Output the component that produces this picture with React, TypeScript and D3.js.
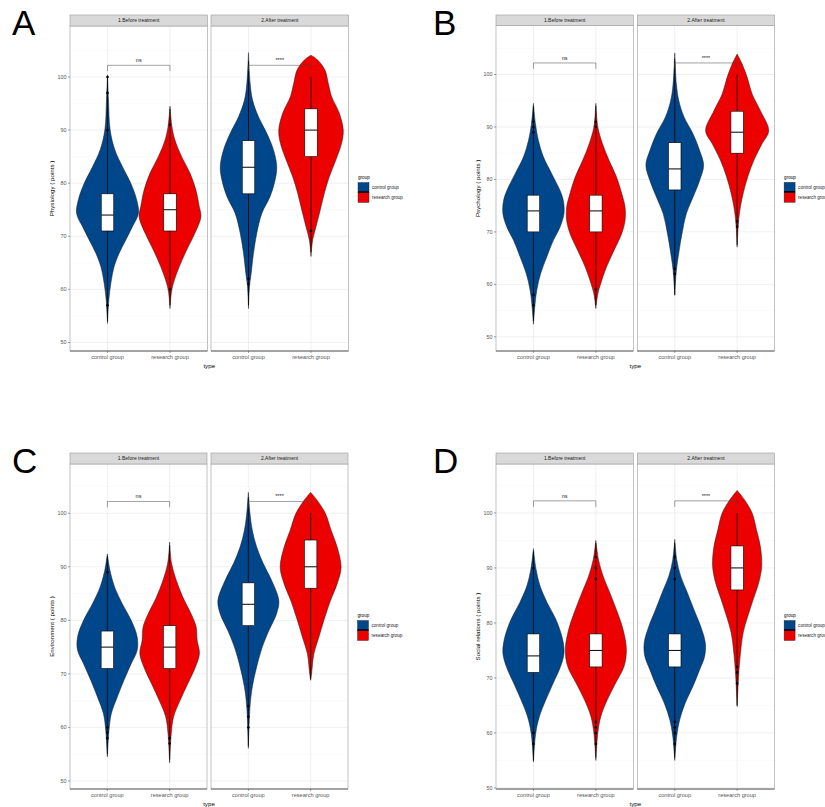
import React, { useEffect, useRef } from "react";
import * as d3 from "d3";

const groups = ["control group", "research group"];
const facets = ["1.Before treatment", "2.After treatment"];
const panelLetters = ["A", "B", "C", "D"];
const yTitles = [
  "Physiology ( points )",
  "Psychology ( points )",
  "Environment ( points )",
  "Social relations ( points )",
];
const yTicks = [50, 60, 70, 80, 90, 100];
const minorTicks = [55, 65, 75, 85, 95, 105];
const fills = ["#00468B", "#ED0000"];
const sigLabels = ["ns", "****"];
const bracketY = 102.2;

// violin profiles: [score, relative density]
const physBeforeControl = [[100.4, 0], [95.7, 3], [90.0, 8], [86.3, 22], [83.1, 45], [80.0, 70], [76.8, 88], [74.3, 93], [71.8, 75], [69.3, 55], [66.8, 35], [64.3, 20], [61.1, 10], [58.0, 4], [53.6, 0]];
const physBeforeResearch = [[94.5, 0], [90.6, 6], [88.1, 15], [85.0, 35], [81.9, 60], [78.7, 78], [75.6, 88], [73.7, 93], [70.6, 75], [67.4, 50], [64.3, 28], [61.1, 10], [59.3, 4], [56.4, 0]];
const physAfterControl = [[104.6, 0], [98.8, 5], [95.7, 12], [92.5, 30], [89.4, 55], [86.3, 75], [83.1, 85], [80.6, 80], [77.5, 65], [74.3, 40], [70.6, 25], [66.8, 15], [63.0, 8], [60.5, 3], [56.4, 0]];
const physAfterResearch = [[104.1, 0], [103.2, 20], [101.3, 42], [98.8, 52], [96.3, 62], [93.2, 85], [90.0, 97], [87.5, 92], [84.4, 75], [81.2, 55], [78.1, 40], [75.0, 28], [71.8, 15], [69.3, 5], [66.2, 0]];

const psyBeforeControl = [[94.5, 0], [90.6, 6], [87.4, 15], [84.3, 30], [81.1, 55], [77.9, 80], [76.0, 90], [73.5, 92], [70.9, 80], [68.4, 60], [65.2, 40], [62.1, 22], [58.9, 10], [55.7, 4], [52.4, 0]];
const psyBeforeResearch = [[94.5, 0], [90.0, 6], [86.8, 20], [83.6, 40], [80.5, 62], [77.3, 78], [74.7, 88], [72.2, 88], [69.7, 78], [66.5, 55], [63.3, 32], [60.2, 15], [58.2, 6], [55.4, 0]];
const psyAfterControl = [[104.1, 0], [98.2, 5], [95.1, 12], [91.9, 28], [88.7, 55], [85.5, 75], [82.7, 87], [79.8, 75], [76.6, 55], [73.5, 35], [69.7, 22], [65.9, 12], [62.7, 5], [57.9, 0]];
const psyAfterResearch = [[103.9, 0], [102.0, 15], [99.5, 30], [96.3, 45], [93.1, 70], [89.3, 95], [86.8, 75], [83.6, 50], [80.5, 32], [77.3, 18], [74.1, 8], [71.0, 3], [67.1, 0]];

const envBeforeControl = [[92.4, 0], [89.3, 8], [86.2, 22], [83.1, 45], [80.0, 72], [76.9, 90], [74.4, 90], [71.9, 72], [68.8, 50], [65.7, 30], [62.6, 12], [59.5, 5], [54.5, 0]];
const envBeforeResearch = [[94.6, 0], [90.6, 6], [87.5, 20], [84.3, 40], [81.2, 65], [78.8, 80], [76.3, 83], [73.8, 90], [71.3, 78], [68.2, 55], [65.1, 32], [62.0, 12], [58.9, 5], [53.4, 0]];
const envAfterControl = [[103.9, 0], [99.9, 5], [96.8, 12], [93.7, 25], [90.6, 45], [87.5, 70], [83.7, 92], [81.2, 85], [78.1, 62], [75.0, 42], [71.3, 25], [67.6, 12], [63.9, 5], [56.1, 0]];
const envAfterResearch = [[103.9, 0], [102.4, 20], [99.9, 45], [96.8, 62], [93.7, 80], [89.9, 92], [86.8, 80], [83.7, 60], [80.0, 40], [76.9, 25], [73.8, 10], [70.1, 3], [68.8, 0]];

const socBeforeControl = [[93.5, 0], [89.7, 8], [86.7, 20], [83.6, 42], [80.6, 68], [77.0, 88], [74.5, 92], [72.1, 82], [69.1, 60], [66.1, 38], [63.0, 18], [60.0, 7], [54.7, 0]];
const socBeforeResearch = [[95.0, 0], [91.5, 8], [88.5, 22], [85.5, 42], [82.4, 62], [78.8, 82], [75.2, 92], [72.1, 85], [69.1, 60], [66.1, 35], [63.0, 15], [60.0, 6], [55.0, 0]];
const socAfterControl = [[95.2, 0], [91.5, 6], [88.5, 18], [85.5, 38], [82.4, 58], [79.4, 78], [76.4, 92], [73.9, 90], [71.5, 75], [68.5, 55], [65.5, 32], [62.4, 15], [59.4, 6], [55.0, 0]];
const socAfterResearch = [[104.1, 0], [102.4, 22], [100.0, 45], [97.0, 58], [93.9, 70], [90.3, 74], [87.3, 65], [84.2, 48], [81.2, 32], [78.2, 18], [74.5, 10], [70.9, 5], [64.8, 0]];

// box stats: [whisker low, q1, median, q3, whisker high]
const physBoxes = [[54, 71, 74, 78, 100], [57, 71, 75, 78, 94], [57, 78, 83, 88, 103], [67, 85, 90, 94, 100]];
const psyBoxes = [[53, 70, 74, 77, 94], [56, 70, 74, 77, 94], [58, 78, 82, 87, 103], [67.5, 85, 89, 93, 100]];
const envBoxes = [[55, 71, 75, 78, 92], [54, 71, 75, 79, 94], [56.5, 79, 83, 87, 103], [69, 86, 90, 95, 100]];
const socBoxes = [[55, 71, 74, 78, 93], [55.5, 72, 75, 78, 94.5], [55.5, 72, 75, 78, 94.5], [65, 86, 90, 94, 100]];

// outlier points
const physOutliers = [[100, 97, 90, 57], [91, 60], [62, 61], [71]];
const psyOutliers = [[91, 90, 89, 58, 56], [91, 90, 59], [63, 62], [72, 71]];
const envOutliers = [[89, 60, 59, 58], [58, 57], [64, 62, 60], []];
const socOutliers = [[90, 60, 58], [92, 90, 88, 62, 61, 60, 58], [92, 90, 88, 62, 61, 60, 58], [72, 71, 69]];

const violins = [
  [physBeforeControl, physBeforeResearch, physAfterControl, physAfterResearch],
  [psyBeforeControl, psyBeforeResearch, psyAfterControl, psyAfterResearch],
  [envBeforeControl, envBeforeResearch, envAfterControl, envAfterResearch],
  [socBeforeControl, socBeforeResearch, socAfterControl, socAfterResearch],
];
const boxes = [physBoxes, psyBoxes, envBoxes, socBoxes];
const outliers = [physOutliers, psyOutliers, envOutliers, socOutliers];

// panel placement on the page
const layout = [
  { x0: 70, fw: 137.5, gap: 3.5, top: 15, stripH: 11, bottom: 351, domain: [48.4, 109.6], lx: 12, ly: 35 },
  { x0: 496, fw: 137.3, gap: 4, top: 15, stripH: 10.7, bottom: 351, domain: [47.3, 109.3], lx: 433, ly: 35 },
  { x0: 70, fw: 137, gap: 4, top: 453, stripH: 11, bottom: 789, domain: [48.5, 109.2], lx: 12, ly: 473 },
  { x0: 496, fw: 137.3, gap: 4, top: 453, stripH: 11, bottom: 789, domain: [49.8, 108.9], lx: 433, ly: 473 },
];

const FONT = "'Liberation Sans', Arial, sans-serif";

const App = () => {
  const ref = useRef<SVGSVGElement>(null);

  useEffect(() => {
    const svg = d3.select(ref.current);
    svg.selectAll("*").remove();

    layout.forEach((L, p) => {
      const g = svg.append("g").attr("font-family", FONT);
      const plotTop = L.top + L.stripH;
      const y = d3.scaleLinear().domain(L.domain).range([L.bottom, plotTop]);

      g.append("text")
        .attr("x", L.lx)
        .attr("y", L.ly)
        .attr("font-size", 35)
        .text(panelLetters[p]);

      facets.forEach((facet, fi) => {
        const left = L.x0 + fi * (L.fw + L.gap);
        const right = left + L.fw;
        const x = d3.scalePoint().domain(groups).range([left, right]).padding(0.6);
        const step = x.step();
        const w = d3.scaleLinear().domain([0, 188]).range([0, step]);
        const fg = g.append("g");

        // grid
        fg.selectAll(".minor")
          .data(minorTicks.filter((t) => t > L.domain[0] && t < L.domain[1]))
          .enter()
          .append("line")
          .attr("x1", left).attr("x2", right)
          .attr("y1", (d) => y(d)).attr("y2", (d) => y(d))
          .attr("stroke", "#f3f3f3").attr("stroke-width", 0.4);
        fg.selectAll(".major")
          .data(yTicks)
          .enter()
          .append("line")
          .attr("x1", left).attr("x2", right)
          .attr("y1", (d) => y(d)).attr("y2", (d) => y(d))
          .attr("stroke", "#e6e6e6").attr("stroke-width", 0.6);
        fg.selectAll(".vgrid")
          .data(groups)
          .enter()
          .append("line")
          .attr("x1", (d) => x(d)!).attr("x2", (d) => x(d)!)
          .attr("y1", plotTop).attr("y2", L.bottom)
          .attr("stroke", "#e6e6e6").attr("stroke-width", 0.6);

        groups.forEach((grp, gi) => {
          const k = fi * 2 + gi;
          const cx = x(grp)!;
          const area = d3
            .area<number[]>()
            .y((d) => y(d[0]))
            .x0((d) => cx - w(d[1]))
            .x1((d) => cx + w(d[1]))
            .curve(d3.curveCatmullRom);
          fg.append("path")
            .attr("d", area(violins[p][k]))
            .attr("fill", fills[gi])
            .attr("stroke", "#1a1a1a")
            .attr("stroke-width", 0.5);

          const [lo, q1, med, q3, hi] = boxes[p][k];
          const bw = step * 0.1;
          fg.append("line")
            .attr("x1", cx).attr("x2", cx)
            .attr("y1", y(lo)).attr("y2", y(hi))
            .attr("stroke", "#000").attr("stroke-width", 0.8);
          fg.append("rect")
            .attr("x", cx - bw).attr("width", bw * 2)
            .attr("y", y(q3)).attr("height", y(q1) - y(q3))
            .attr("fill", "#fff").attr("stroke", "#000").attr("stroke-width", 0.6);
          fg.append("line")
            .attr("x1", cx - bw).attr("x2", cx + bw)
            .attr("y1", y(med)).attr("y2", y(med))
            .attr("stroke", "#000").attr("stroke-width", 1);
          fg.selectAll(null)
            .data(outliers[p][k])
            .enter()
            .append("circle")
            .attr("cx", cx).attr("cy", (d) => y(d))
            .attr("r", 1.3).attr("fill", "#000");
        });

        // significance bracket
        const bx1 = x(groups[0])!;
        const bx2 = x(groups[1])!;
        fg.append("path")
          .attr("d", `M${bx1},${y(bracketY - 1.1)}V${y(bracketY)}H${bx2}V${y(bracketY - 1.1)}`)
          .attr("fill", "none").attr("stroke", "#444").attr("stroke-width", 0.5);
        fg.append("text")
          .attr("x", (bx1 + bx2) / 2).attr("y", y(bracketY + 0.6))
          .attr("text-anchor", "middle").attr("font-size", 5.5).attr("fill", "#222")
          .text(sigLabels[fi]);

        // border & strip
        fg.append("rect")
          .attr("x", left).attr("y", plotTop).attr("width", L.fw).attr("height", L.bottom - plotTop)
          .attr("fill", "none").attr("stroke", "#9a9a9a").attr("stroke-width", 0.6);
        fg.append("rect")
          .attr("x", left).attr("y", L.top).attr("width", L.fw).attr("height", L.stripH)
          .attr("fill", "#d9d9d9").attr("stroke", "#9a9a9a").attr("stroke-width", 0.6);
        fg.append("text")
          .attr("x", (left + right) / 2).attr("y", L.top + L.stripH / 2 + 1.8)
          .attr("text-anchor", "middle").attr("font-size", 5).attr("fill", "#1a1a1a")
          .text(facet);

        // x axis
        fg.append("line")
          .attr("x1", left).attr("x2", right).attr("y1", L.bottom).attr("y2", L.bottom)
          .attr("stroke", "#444").attr("stroke-width", 0.8);
        groups.forEach((grp) => {
          fg.append("line")
            .attr("x1", x(grp)!).attr("x2", x(grp)!)
            .attr("y1", L.bottom).attr("y2", L.bottom + 2)
            .attr("stroke", "#444").attr("stroke-width", 0.5);
          fg.append("text")
            .attr("x", x(grp)!).attr("y", L.bottom + 7.5)
            .attr("text-anchor", "middle").attr("font-size", 5.6).attr("fill", "#555")
            .text(grp);
        });
      });

      // y axis
      yTicks.forEach((t) => {
        g.append("line")
          .attr("x1", L.x0 - 2).attr("x2", L.x0)
          .attr("y1", y(t)).attr("y2", y(t))
          .attr("stroke", "#444").attr("stroke-width", 0.5);
        g.append("text")
          .attr("x", L.x0 - 3.5).attr("y", y(t) + 1.9)
          .attr("text-anchor", "end").attr("font-size", 5.4).attr("fill", "#555")
          .text(t);
      });
      const midY = (plotTop + L.bottom) / 2;
      g.append("text")
        .attr("transform", `translate(${L.x0 - 16},${midY}) rotate(-90)`)
        .attr("text-anchor", "middle").attr("font-size", 6.2)
        .text(yTitles[p]);
      const totalRight = L.x0 + 2 * L.fw + L.gap;
      g.append("text")
        .attr("x", (L.x0 + totalRight) / 2).attr("y", L.bottom + 16.5)
        .attr("text-anchor", "middle").attr("font-size", 6.2)
        .text("type");

      // legend
      const lx = totalRight + 9.5;
      const ly = midY - 11;
      g.append("text").attr("x", lx).attr("y", ly + 1.5).attr("font-size", 4.6).text("group");
      groups.forEach((grp, gi) => {
        const ky = ly + 5 + gi * 10;
        g.append("rect")
          .attr("x", lx).attr("y", ky).attr("width", 11).attr("height", 10)
          .attr("fill", fills[gi]).attr("stroke", "#222").attr("stroke-width", 0.4);
        g.append("text")
          .attr("x", lx + 14).attr("y", ky + 6.6)
          .attr("font-size", 4.6).attr("fill", "#222")
          .text(grp);
      });
      g.append("line")
        .attr("x1", lx).attr("x2", lx + 11)
        .attr("y1", ly + 14.5).attr("y2", ly + 14.5)
        .attr("stroke", "#000").attr("stroke-width", 1.4);
    });
  }, []);

  return (
    <svg
      ref={ref}
      width={825}
      height={807}
      style={{ position: "absolute", left: 0, top: 0, background: "#fff" }}
    ></svg>
  );
};

export default App;
